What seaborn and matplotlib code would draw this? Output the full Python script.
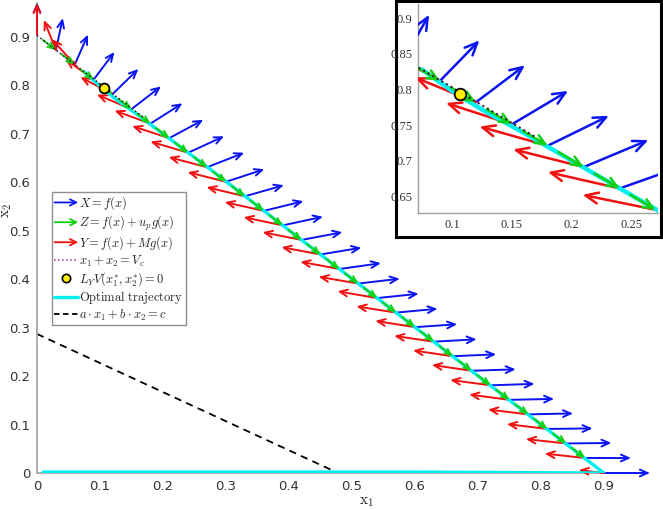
import numpy as np
import pandas as pd
import matplotlib
matplotlib.use('Agg')
import matplotlib.pyplot as plt
import seaborn as sns
from matplotlib.patches import FancyArrowPatch
from matplotlib.lines import Line2D
from matplotlib.legend_handler import HandlerPatch

# ---- Data ----
# base points of the vector field, along x1 + x2 = Vc
base_x = [0.00, 0.03, 0.06, 0.09, 0.12, 0.15, 0.18, 0.21, 0.24, 0.27, 0.30,
          0.33, 0.36, 0.39, 0.42, 0.45, 0.48, 0.51, 0.54, 0.57, 0.60, 0.63,
          0.66, 0.69, 0.72, 0.75, 0.78, 0.81, 0.84, 0.87, 0.90]
base_y = [0.905, 0.873, 0.843, 0.812, 0.782, 0.751, 0.721, 0.691, 0.661, 0.631,
          0.601, 0.571, 0.541, 0.511, 0.481, 0.451, 0.421, 0.391, 0.361, 0.331,
          0.301, 0.271, 0.241, 0.211, 0.181, 0.151, 0.121, 0.091, 0.061, 0.031, 0.000]

# X = f(x)  (blue)
fx_u = [0.000, 0.011, 0.021, 0.033, 0.041, 0.047, 0.051, 0.054, 0.057, 0.059, 0.061,
        0.062, 0.063, 0.064, 0.065, 0.065, 0.066, 0.066, 0.066, 0.066, 0.067, 0.068,
        0.069, 0.070, 0.070, 0.071, 0.071, 0.072, 0.072, 0.073, 0.073]
fx_v = [0.066, 0.066, 0.062, 0.057, 0.052, 0.047, 0.042, 0.038, 0.034, 0.030, 0.026,
        0.023, 0.020, 0.018, 0.016, 0.014, 0.012, 0.010, 0.009, 0.008, 0.006, 0.005,
        0.004, 0.003, 0.003, 0.002, 0.002, 0.001, 0.001, 0.000, 0.000]

# Y = f(x) + M g(x)  (red)
fy_u = [0.000, -0.019, -0.036, -0.045, -0.051, -0.055, -0.057, -0.059, -0.060, -0.061,
        -0.061, -0.061, -0.062, -0.062, -0.062, -0.062, -0.062, -0.063, -0.063, -0.063,
        -0.063, -0.063, -0.063, -0.063, -0.064, -0.064, -0.064, -0.064, -0.064, -0.064, -0.040]
fy_v = [0.065, 0.062, 0.052, 0.042, 0.035, 0.030, 0.027, 0.025, 0.023, 0.021, 0.020,
        0.019, 0.018, 0.017, 0.016, 0.015, 0.015, 0.014, 0.014, 0.013, 0.013, 0.012,
        0.012, 0.012, 0.011, 0.011, 0.010, 0.010, 0.009, 0.009, 0.006]

# Z = f(x) + up g(x)  (green, tangent to the switching line, tip at the base point)
fz_u = [0.000] + [0.021] * 29 + [0.000]
fz_v = [0.000] + [-0.021] * 29 + [0.000]

# optimal trajectory (cyan)
traj_x = [0.075, 0.090, 0.107, 0.130, 0.160, 0.200, 0.272, 0.400, 0.600, 0.800, 0.900,
          0.600, 0.300, 0.010]
traj_y = [0.828, 0.810, 0.790, 0.767, 0.739, 0.700, 0.630, 0.501, 0.301, 0.100, 0.000,
          0.002, 0.002, 0.002]

# x1 + x2 = Vc
vc_x = [0.0, 0.17]
vc_y = [0.903, 0.733]

# a*x1 + b*x2 = c
lin_x = [0.0, 0.478]
lin_y = [0.287, 0.0]

# L_Y V(x1*, x2*) = 0
star_x = [0.107]
star_y = [0.794]

main_ticks = [0, 0.1, 0.2, 0.3, 0.4, 0.5, 0.6, 0.7, 0.8, 0.9]
inset_xticks = [0.1, 0.15, 0.2, 0.25]
inset_yticks = [0.65, 0.7, 0.75, 0.8, 0.85, 0.9]

# ---- Style ----
sns.set_style('white')
plt.rcParams['mathtext.fontset'] = 'cm'
plt.rcParams['font.family'] = ['DejaVu Sans']

BLUE, GREEN, RED, CYAN = '#0a14f0', '#10d010', '#f01010', '#00f0f0'
VC_COL = '#3c1438'


def draw_arrows(ax, xs, ys, us, vs, color, lw, ms, tip=False, clip=True, z=3):
    # one open-headed arrow per base point
    for x, y, u, v in zip(xs, ys, us, vs):
        if u == 0 and v == 0:
            continue
        if tip:
            start, end = (x - u, y - v), (x, y)
        else:
            start, end = (x, y), (x + u, y + v)
        arr = FancyArrowPatch(start, end, arrowstyle='->,head_length=0.5,head_width=0.22',
                              mutation_scale=ms, color=color, lw=lw,
                              shrinkA=0, shrinkB=0, zorder=z)
        ax.add_patch(arr)
        arr.set_clip_on(clip)


def draw_all(ax, lw, ms, traj_lw, dot_size, clip):
    draw_arrows(ax, base_x, base_y, fx_u, fx_v, BLUE, lw, ms, clip=clip, z=3)
    draw_arrows(ax, base_x, base_y, fy_u, fy_v, RED, lw, ms, clip=clip, z=4)
    sns.lineplot(x=traj_x, y=traj_y, ax=ax, color=CYAN, lw=traj_lw, sort=False,
                 estimator=None, zorder=5)
    draw_arrows(ax, base_x, base_y, fz_u, fz_v, GREEN, lw, ms * 0.8, tip=True, clip=clip, z=6)
    sns.lineplot(x=vc_x, y=vc_y, ax=ax, color=VC_COL, lw=lw * 0.8, ls=':', sort=False,
                 estimator=None, zorder=7)
    sns.scatterplot(x=star_x, y=star_y, ax=ax, color='#ffee00', edgecolor='k',
                    linewidth=1.3, s=dot_size, zorder=8)


fig = plt.figure(figsize=(6.63, 5.09), dpi=100)

# ---- Main axes ----
ax = fig.add_axes([0.0558, 0.0707, 0.9216, 0.9234])
draw_all(ax, lw=1.4, ms=11, traj_lw=2.4, dot_size=50, clip=False)
sns.lineplot(x=lin_x, y=lin_y, ax=ax, color='k', lw=1.3, ls=(0, (4, 3)), sort=False,
             estimator=None, zorder=2)

ax.set_xlim(0, 0.97)
ax.set_ylim(0, 0.97)
ax.set_xticks(main_ticks)
ax.set_yticks(main_ticks)
ax.set_xticklabels(['0' if t == 0 else f'{t:g}' for t in main_ticks])
ax.set_yticklabels(['0' if t == 0 else f'{t:g}' for t in main_ticks])
ax.tick_params(direction='in', length=4, color='#888888', labelsize=9.5,
               labelcolor='#333333', pad=5)
sns.despine(ax=ax)
for s in ['left', 'bottom']:
    ax.spines[s].set_color('#a0a0a0')
    ax.spines[s].set_linewidth(1.2)
ax.set_xlabel(r'$\mathrm{x}_1$', fontsize=11)
ax.set_ylabel(r'$\mathrm{x}_2$', fontsize=11)
ax.xaxis.set_label_coords(0.54, -0.045)
ax.yaxis.set_label_coords(-0.038, 0.56)

# legend with arrow handles
def legend_arrow(legend, orig_handle, xdescent, ydescent, width, height, fontsize):
    return FancyArrowPatch((0, height / 2), (width, height / 2),
                           arrowstyle='->,head_length=0.5,head_width=0.25',
                           mutation_scale=9, shrinkA=0, shrinkB=0)

handles = [
    FancyArrowPatch((0, 0), (1, 0), color=BLUE, lw=1.3),
    FancyArrowPatch((0, 0), (1, 0), color=GREEN, lw=1.3),
    FancyArrowPatch((0, 0), (1, 0), color=RED, lw=1.3),
    Line2D([], [], color='#9a2a80', lw=1.1, ls=':'),
    Line2D([], [], marker='o', ls='', mfc='#ffee00', mec='k', mew=1.2, ms=6),
    Line2D([], [], color=CYAN, lw=2.4),
    Line2D([], [], color='k', lw=1.3, ls=(0, (3, 2))),
]
labels = [r'$X = f(x)$', r'$Z = f(x) + u_p g(x)$', r'$Y = f(x) + Mg(x)$',
          r'$x_1 + x_2 = V_c$', r'$L_Y V(x_1^{*}, x_2^{*}) = 0$',
          r'$\mathrm{Optimal\ trajectory}$', r'$a \cdot x_1 + b \cdot x_2 = c$']
leg = ax.legend(handles, labels, handler_map={FancyArrowPatch: HandlerPatch(patch_func=legend_arrow)},
                loc='upper left', bbox_to_anchor=(0.0245, 0.598), fontsize=9,
                frameon=True, fancybox=False, edgecolor='#909090', framealpha=1,
                handlelength=1.9, handletextpad=0.1, labelspacing=0.12,
                borderpad=0.2, borderaxespad=0)
leg.get_frame().set_linewidth(1.0)

# ---- Inset (zoom near the top-left) ----
frame = fig.add_axes([0.597, 0.534, 0.400, 0.4637])
frame.set_xticks([])
frame.set_yticks([])
frame.set_facecolor('white')
for s in frame.spines.values():
    s.set_color('k')
    s.set_linewidth(2.2)

ins = fig.add_axes([0.6305, 0.5815, 0.362, 0.4106])
draw_all(ins, lw=1.8, ms=18, traj_lw=3.2, dot_size=70, clip=True)
ins.set_xlim(0.0717, 0.272)
ins.set_ylim(0.6265, 0.92)
ins.set_xticks(inset_xticks)
ins.set_yticks(inset_yticks)
ins.set_xticklabels([f'{t:g}' for t in inset_xticks])
ins.set_yticklabels([f'{t:g}' for t in inset_yticks])
ins.tick_params(direction='in', length=3, color='#888888', labelsize=9,
                labelcolor='#333333', pad=4)
for lab in ins.get_xticklabels() + ins.get_yticklabels():
    lab.set_family('Liberation Serif')
sns.despine(ax=ins)
for s in ['left', 'bottom']:
    ins.spines[s].set_color('#a0a0a0')
    ins.spines[s].set_linewidth(1.0)

fig.savefig('out.png', dpi=100)
